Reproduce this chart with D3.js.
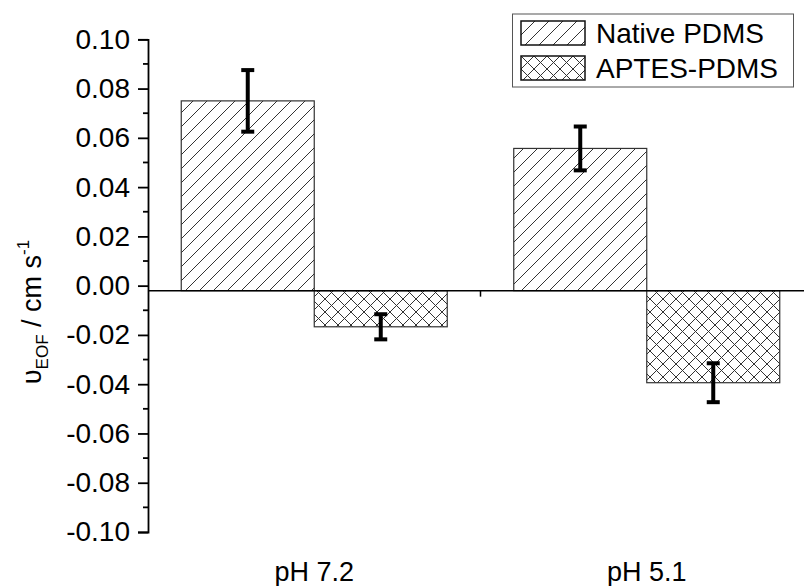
<!DOCTYPE html>
<html>
<head>
<meta charset="utf-8">
<script src="https://cdn.jsdelivr.net/npm/d3@7"></script>
<style>
  body { margin: 0; background: #fff; }
  svg { display: block; font-family: "Liberation Sans", Arial, sans-serif; }
</style>
</head>
<body>
<div id="chart"></div>
<script>
const categories = ["pH 7.2", "pH 5.1"]
const seriesNames = ["Native PDMS", "APTES-PDMS"]
const nativeValues = [0.0750, 0.0557]
const nativeErrors = [0.0125, 0.0089]
const aptesValues = [-0.0167, -0.0394]
const aptesErrors = [0.0051, 0.0079]
const yTicks = [0.10, 0.08, 0.06, 0.04, 0.02, 0.00, -0.02, -0.04, -0.06, -0.08, -0.10]

const width = 804, height = 586
const svg = d3.select("#chart").append("svg")
    .attr("width", width)
    .attr("height", height)

// hatch patterns
const defs = svg.append("defs")
const diag = defs.append("pattern")
    .attr("id", "diag")
    .attr("patternUnits", "userSpaceOnUse")
    .attr("width", 14).attr("height", 14)
diag.append("rect").attr("width", 14).attr("height", 14).attr("fill", "#fff")
diag.append("path")
    .attr("d", "M-2,16 L16,-2 M-2,2 L2,-2 M12,16 L16,12")
    .attr("stroke", "#333").attr("stroke-width", 1)

const cross = defs.append("pattern")
    .attr("id", "cross")
    .attr("patternUnits", "userSpaceOnUse")
    .attr("width", 13).attr("height", 13)
cross.append("rect").attr("width", 13).attr("height", 13).attr("fill", "#fff")
cross.append("path")
    .attr("d", "M0,0 L13,13 M13,0 L0,13")
    .attr("stroke", "#333").attr("stroke-width", 1)

const fills = ["url(#diag)", "url(#cross)"]

const yScale = d3.scaleLinear()
    .domain([-0.10, 0.10])
    .range([532, 39.3])

const xGroup = d3.scaleBand()
    .domain(categories)
    .range([148, 813])
    .paddingInner(0.2)
    .paddingOuter(0.1)

const xSeries = d3.scaleBand()
    .domain(seriesNames)
    .range([0, xGroup.bandwidth()])

const baseY = yScale(0) + 5

const data = []
categories.forEach((c, i) => {
    data.push({cat: c, series: seriesNames[0], value: nativeValues[i], err: nativeErrors[i]})
    data.push({cat: c, series: seriesNames[1], value: aptesValues[i], err: aptesErrors[i]})
})

// bars
svg.append("g").selectAll("rect")
    .data(data)
    .enter()
    .append("rect")
    .attr("x", d => xGroup(d.cat) + xSeries(d.series))
    .attr("y", d => Math.min(yScale(d.value), baseY))
    .attr("width", xSeries.bandwidth())
    .attr("height", d => Math.abs(baseY - yScale(d.value)))
    .attr("fill", d => fills[seriesNames.indexOf(d.series)])
    .attr("stroke", "#333")
    .attr("stroke-width", 1.2)

// zero line + x tick
svg.append("line")
    .attr("x1", 148).attr("x2", width)
    .attr("y1", baseY).attr("y2", baseY)
    .attr("stroke", "#000").attr("stroke-width", 1.5)
const midX = xGroup(categories[1]) - xGroup.step() * xGroup.paddingInner() / 2
svg.append("line")
    .attr("x1", midX).attr("x2", midX)
    .attr("y1", baseY).attr("y2", baseY + 6)
    .attr("stroke", "#000").attr("stroke-width", 1.5)

// error bars
const eb = svg.append("g").selectAll("g")
    .data(data)
    .enter()
    .append("g")
    .attr("stroke", "#000")
    .attr("stroke-width", 4)
const cx = d => xGroup(d.cat) + xSeries(d.series) + xSeries.bandwidth() / 2
eb.append("line")
    .attr("x1", cx).attr("x2", cx)
    .attr("y1", d => yScale(d.value + d.err))
    .attr("y2", d => yScale(d.value - d.err))
eb.append("line")
    .attr("x1", d => cx(d) - 6.5).attr("x2", d => cx(d) + 6.5)
    .attr("y1", d => yScale(d.value + d.err))
    .attr("y2", d => yScale(d.value + d.err))
eb.append("line")
    .attr("x1", d => cx(d) - 6.5).attr("x2", d => cx(d) + 6.5)
    .attr("y1", d => yScale(d.value - d.err))
    .attr("y2", d => yScale(d.value - d.err))

// y axis
const yAxis = d3.axisLeft(yScale)
    .tickValues(yTicks)
    .tickFormat(d => d3.format(".2f")(d).replace("−", "-"))
    .tickSize(10)
    .tickPadding(8)
const yg = svg.append("g")
    .attr("transform", "translate(148,0)")
    .call(yAxis)
yg.select(".domain").attr("stroke-width", 1.8)
yg.selectAll(".tick line").attr("stroke-width", 1.8)
yg.selectAll(".tick text")
    .attr("font-size", 28)
    .attr("font-family", "Liberation Sans, Arial, sans-serif")
    .attr("fill", "#000")

// minor ticks
const minor = d3.range(-0.09, 0.1, 0.02)
svg.append("g").selectAll("line")
    .data(minor)
    .enter()
    .append("line")
    .attr("x1", 143).attr("x2", 148)
    .attr("y1", d => yScale(d)).attr("y2", d => yScale(d))
    .attr("stroke", "#000").attr("stroke-width", 1.8)

// category labels
svg.append("g").selectAll("text")
    .data(categories)
    .enter()
    .append("text")
    .attr("x", d => xGroup(d) + xGroup.bandwidth() / 2)
    .attr("y", 581)
    .attr("text-anchor", "middle")
    .attr("font-size", 27)
    .text(d => d)

// y title
const title = svg.append("text")
    .attr("transform", "translate(41,312) rotate(-90)")
    .attr("text-anchor", "middle")
    .attr("font-size", 27)
title.append("tspan").text("υ")
title.append("tspan").attr("font-size", 17).attr("dy", 7).text("EOF")
title.append("tspan").attr("dy", -7).text(" / cm s")
title.append("tspan").attr("font-size", 17).attr("dy", -12).text("-1")

// legend
const legend = svg.append("g")
legend.append("rect")
    .attr("x", 512.5).attr("y", 14)
    .attr("width", 281).attr("height", 73)
    .attr("fill", "#fff")
    .attr("stroke", "#555").attr("stroke-width", 1)
const items = legend.selectAll("g.item")
    .data(seriesNames)
    .enter()
    .append("g")
    .attr("class", "item")
    .attr("transform", (d, i) => `translate(521,${21 + i * 35})`)
items.append("rect")
    .attr("width", 64).attr("height", 24)
    .attr("fill", (d, i) => fills[i])
    .attr("stroke", "#111").attr("stroke-width", 1.5)
items.append("text")
    .attr("x", 75).attr("y", 22)
    .attr("font-size", 28)
    .text(d => d)
</script>
</body>
</html>
